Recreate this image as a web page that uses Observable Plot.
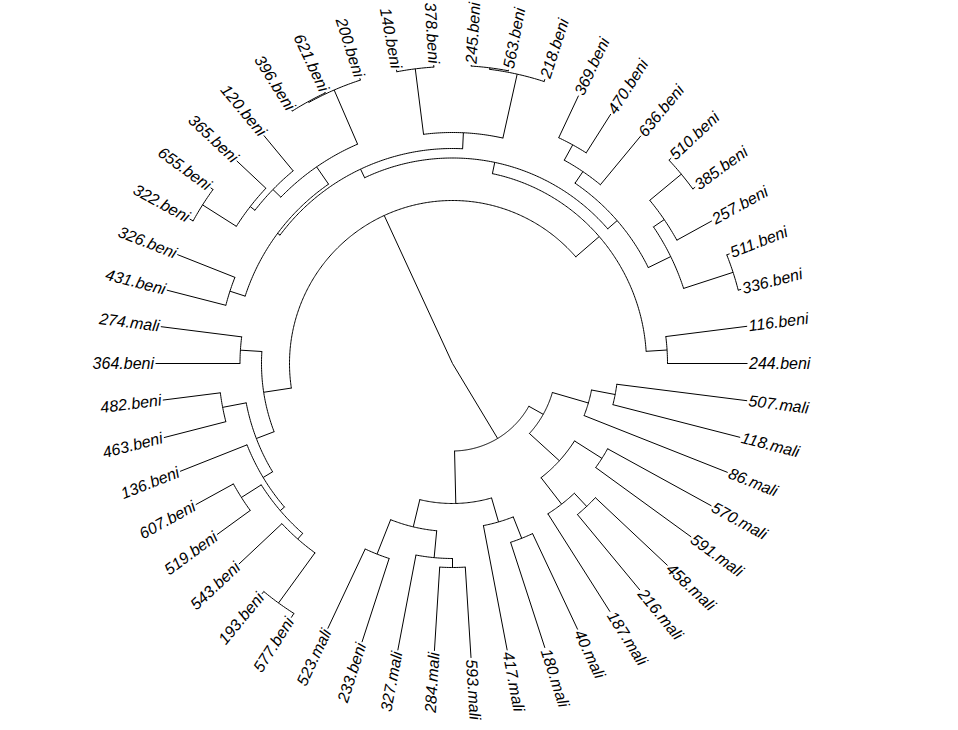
<!DOCTYPE html>
<html><head><meta charset="utf-8">
<script src="https://cdn.jsdelivr.net/npm/d3@7"></script>
<script src="https://cdn.jsdelivr.net/npm/@observablehq/plot@0.6"></script>
<style>html,body{margin:0;padding:0;background:#fff;} #chart svg{display:block;background:#fff;}</style>
</head><body><div id="chart"></div>
<script>
// Tip labels, counter-clockwise from angle 0 (east)
const tipLabels = ["244.beni","116.beni","336.beni","511.beni","257.beni","385.beni","510.beni","636.beni","470.beni","369.beni","218.beni","563.beni","245.beni","378.beni","140.beni","200.beni","621.beni","396.beni","120.beni","365.beni","655.beni","322.beni","326.beni","431.beni","274.mali","364.beni","482.beni","463.beni","136.beni","607.beni","519.beni","543.beni","193.beni","577.beni","523.mali","233.beni","327.mali","284.mali","593.mali","417.mali","180.mali","40.mali","187.mali","216.mali","458.mali","591.mali","570.mali","86.mali","118.mali","507.mali"];
// Distance of each tip from the root
const tipDepths = [295,297,298,298,296,300,300,295.5,295.5,296,299,299,299,299,299,300,300,300,296,296,299,300,296,295,294,297,292,298,293,293,291,293,299,301,293,293,292,288,295,292,299,294,294,294,295,295,295.5,296,297,297];
// Parent node of each tip
const tipParents = ["N116_244","N116_244","N511_336","N511_336","N257g","N385_510","N385_510","W","N470_369","N470_369","T2","N245_563","N245_563","T1","T1","Q3","N396_621","N396_621","P2","P1","N655_322","N655_322","N326_431","N326_431","A1a","A1a","N482_463","N482_463","c2","N607_519","N607_519","N543g","N193_577","N193_577","N523_233","N523_233","R","N284_593","N284_593","B1b","N180_40","N180_40","N187g","N216_458","N216_458","N591_570","N591_570","B2a","N118_507","N118_507"];
// Internal nodes: id, parent, distance from root
const nodeIds     = ["root","A","A2","N116_244","Y","V","Z","N511_336","N257g","N385_510","W","N470_369","U","T","T2","N245_563","T1","G","P3","Q3","N396_621","P2","P1","N655_322","N326_431","A1","A1a","A1b","N482_463","c2","X","N607_519","N543g","N193_577","B","B1","B1a","N523_233","R","N284_593","B1b","N180_40","B2","B2a","N118_507","B2b","N591_570","N187g","N216_458"];
const nodeParents = [null,"root","A","A2","A2","Y","V","Z","Z","N257g","V","W","Y","U","T","T2","T","U","G","P3","Q3","P3","P2","P1","G","A","A1","A1","A1b","A1b","c2","X","X","N543g","root","B","B1","B1a","B1a","R","B1","B1b","B","B2","B2a","B2","B2b","B2b","N187g"];
const nodeDepths  = [0,163,194,215,205.5,218,243,295,256,297,232,249.5,215,231,296.5,298,297,218,239,298,299,250,256,296,234,191,212.5,210,234,221,226.5,250,234,296,87.5,140,168,205,195,204,165,188,104,141.5,165.6,144.5,177,178,196];

// ---- build tree ----
const step = 360 / tipLabels.length;
const nodes = new Map();
nodeIds.forEach((id, i) => nodes.set(id, {id, parent: nodeParents[i], depth: nodeDepths[i], children: []}));
const tips = tipLabels.map((label, i) => ({id: label, label, parent: tipParents[i], depth: tipDepths[i], angle: i * step, tip: true}));
tips.forEach(t => nodes.get(t.parent).children.push(t));
nodeIds.forEach((id, i) => { if (nodeParents[i]) nodes.get(nodeParents[i]).children.push(nodes.get(id)); });
function ang(n) { if (n.angle !== undefined) return n.angle; n.angle = d3.mean(n.children.map(ang)); return n.angle; }
ang(nodes.get("root"));

const rad = a => a * Math.PI / 180;
const px = (r, a) => r * Math.cos(rad(a));
const py = (r, a) => r * Math.sin(rad(a));

// radial segments
const radials = [];
for (const n of [...nodes.values(), ...tips]) {
  if (!n.parent) continue;
  const p = nodes.get(n.parent);
  radials.push({x1: px(p.depth, n.angle), y1: py(p.depth, n.angle), x2: px(n.depth, n.angle), y2: py(n.depth, n.angle)});
}
// arcs
const arcs = [];
for (const n of nodes.values()) {
  if (n.depth === 0) continue;
  const as = n.children.map(c => c.angle);
  const a0 = d3.min(as), a1 = d3.max(as);
  const k = Math.max(2, Math.ceil((a1 - a0) / 0.5));
  for (let j = 0; j <= k; j++) {
    const a = a0 + (a1 - a0) * j / k;
    arcs.push({id: n.id, x: px(n.depth, a), y: py(n.depth, a)});
  }
}
// labels
const labels = tips.map(t => {
  const a = t.angle;
  const right = a < 90 || a > 270;
  return {text: t.label, x: px(t.depth + 1.5, a), y: py(t.depth + 1.5, a), rot: right ? -a : 180 - a, right};
});

const font = {fontSize: 16, fontStyle: "italic", fontFamily: "'Liberation Sans', Arial, sans-serif", fill: "#000"};
const chart = Plot.plot({
  width: 958, height: 730,
  marginTop: 0, marginRight: 0, marginBottom: 0, marginLeft: 0,
  x: {domain: [-452, 506], axis: null},
  y: {domain: [-367, 363], axis: null},
  marks: [
    Plot.line(arcs, {x: "x", y: "y", z: "id", stroke: "#000", strokeWidth: 1}),
    Plot.link(radials, {x1: "x1", y1: "y1", x2: "x2", y2: "y2", stroke: "#000", strokeWidth: 1}),
    Plot.text(labels.filter(d => d.right), {x: "x", y: "y", text: "text", rotate: "rot", textAnchor: "start", ...font}),
    Plot.text(labels.filter(d => !d.right), {x: "x", y: "y", text: "text", rotate: "rot", textAnchor: "end", ...font})
  ]
});
document.getElementById("chart").appendChild(chart);
</script>
</body></html>
